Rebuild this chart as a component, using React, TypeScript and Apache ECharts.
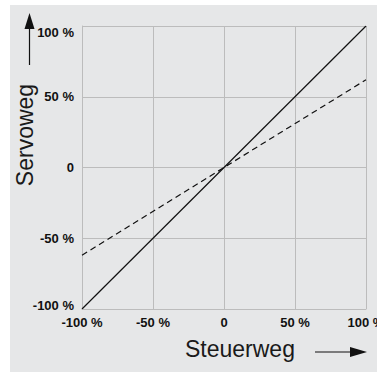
import React, { useEffect, useRef } from "react";
import * as echarts from "echarts";

const steuerweg = [-100, 100];
const servowegLinear = [-100, 100];
const servowegReduced = [-62, 62];
const axisMin = -100;
const axisMax = 100;
const tickStep = 50;
const xAxisTitle = "Steuerweg";
const yAxisTitle = "Servoweg";

const FONT = '"Liberation Sans", Arial, Helvetica, sans-serif';
const GRID_COLOR = "#bcbcbc";
const BG = "#e6e7e8";

const fmt = (v: number) => (v === 0 ? "0" : `${v} %`);

export default function App() {
  const ref = useRef<HTMLDivElement>(null);
  useEffect(() => {
    if (!ref.current) return;
    const chart = echarts.init(ref.current, null, { renderer: "svg" });
    const labelStyle = { fontFamily: FONT, fontWeight: "bold" as const, fontSize: 13, color: "#111" };
    chart.setOption({
      animation: false,
      backgroundColor: "transparent",
      grid: { left: 82, top: 26, right: 11, bottom: 63, containLabel: false, outerBoundsMode: "none" },
      xAxis: {
        type: "value",
        min: axisMin,
        max: axisMax,
        interval: tickStep,
        axisLine: { show: true, onZero: false, lineStyle: { color: GRID_COLOR, width: 1 } },
        axisTick: { show: false },
        splitLine: { show: true, lineStyle: { color: GRID_COLOR, width: 1 } },
        axisLabel: { ...labelStyle, margin: 7, formatter: fmt, showMinLabel: true, showMaxLabel: true, hideOverlap: false },
      },
      yAxis: {
        type: "value",
        min: axisMin,
        max: axisMax,
        interval: tickStep,
        axisLine: { show: true, onZero: false, lineStyle: { color: GRID_COLOR, width: 1 } },
        axisTick: { show: false },
        splitLine: { show: true, lineStyle: { color: GRID_COLOR, width: 1 } },
        axisLabel: {
          ...labelStyle,
          margin: 8,
          showMinLabel: true,
          showMaxLabel: true,
          formatter: (v: number) => {
            if (v === axisMax) return `{top|${fmt(v)}}`;
            if (v === axisMin) return `{bot|${fmt(v)}}`;
            return fmt(v);
          },
          rich: {
            top: { ...labelStyle, padding: [12, 0, 0, 0] },
            bot: { ...labelStyle, padding: [0, 0, 8, 0] },
          },
        },
      },
      series: [
        {
          type: "line",
          data: steuerweg.map((x, i) => [x, servowegLinear[i]]),
          showSymbol: false,
          symbol: "none",
          lineStyle: { color: "#111", width: 1.2, type: "solid" },
          z: 3,
        },
        {
          type: "line",
          data: steuerweg.map((x, i) => [x, servowegReduced[i]]),
          showSymbol: false,
          symbol: "none",
          lineStyle: { color: "#111", width: 1.2, type: [6, 4] },
          z: 3,
        },
      ],
      graphic: [
        {
          type: "text",
          x: 185,
          y: 349,
          style: { text: xAxisTitle, font: `23px ${FONT}`, fill: "#1a1a1a", verticalAlign: "middle", align: "left" },
        },
        {
          type: "line",
          shape: { x1: 315, y1: 352, x2: 352, y2: 352 },
          style: { stroke: "#111", lineWidth: 1.2 },
        },
        {
          type: "polygon",
          shape: { points: [[350, 347], [350, 357], [367, 352]] },
          style: { fill: "#111" },
        },
        {
          type: "text",
          x: 25,
          y: 135,
          rotation: Math.PI / 2,
          style: { text: yAxisTitle, font: `23px ${FONT}`, fill: "#1a1a1a", verticalAlign: "middle", align: "center" },
        },
        {
          type: "line",
          shape: { x1: 29.5, y1: 65, x2: 29.5, y2: 27 },
          style: { stroke: "#111", lineWidth: 1.2 },
        },
        {
          type: "polygon",
          shape: { points: [[24.5, 29], [34.5, 29], [29.5, 13]] },
          style: { fill: "#111" },
        },
      ],
    });
    return () => chart.dispose();
  }, []);
  return (
    <div style={{ position: "fixed", left: 0, top: 0, width: 377, height: 372, background: "#fff", overflow: "hidden" }}>
      <div style={{ position: "absolute", left: 10, top: 5, right: 0, bottom: 0, background: BG }} />
      <div ref={ref} style={{ position: "absolute", left: 0, top: 0, width: 377, height: 372 }} />
    </div>
  );
}
